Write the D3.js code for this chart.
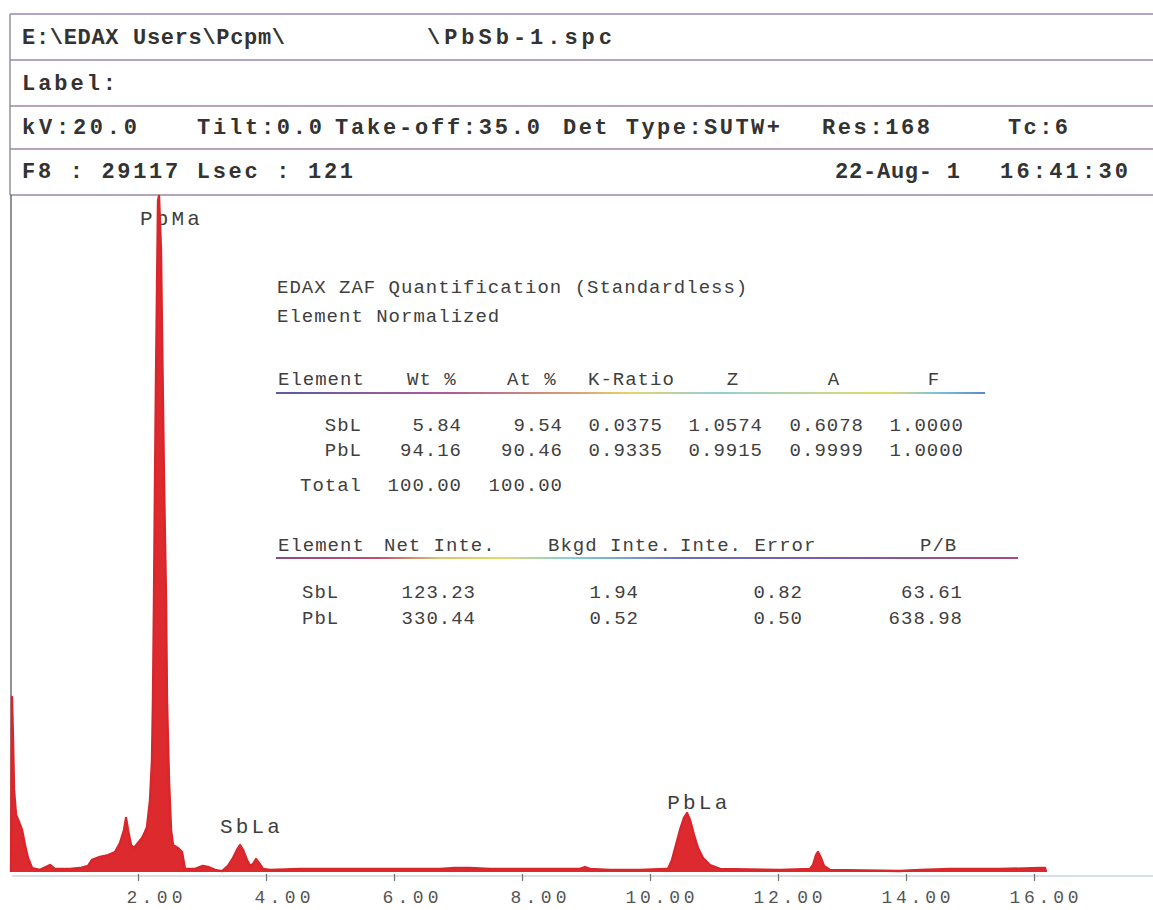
<!DOCTYPE html>
<html>
<head>
<meta charset="utf-8">
<script src="https://cdn.jsdelivr.net/npm/d3@7"></script>
<style>
  body { margin: 0; background: #fff; }
  svg { display: block; }
</style>
</head>
<body>
<svg id="chart" width="1153" height="910"></svg>
<script>
// spectrum: energy in keV, counts (full scale 29117)
var energy = [0.016, 0.031, 0.047, 0.063, 0.094, 0.141, 0.188, 0.234, 0.281, 0.344, 0.469, 0.625, 0.703, 0.938,
  1.094, 1.219, 1.281, 1.406, 1.531, 1.641, 1.719, 1.781, 1.813, 1.844, 1.891, 1.938, 2.0, 2.063, 2.109, 2.141,
  2.188, 2.219, 2.234, 2.25, 2.266, 2.281, 2.297, 2.313, 2.328, 2.359, 2.375, 2.406, 2.438, 2.453, 2.484, 2.516,
  2.547, 2.625, 2.688, 2.734, 2.891, 3.016, 3.094, 3.203, 3.313, 3.406, 3.484, 3.547, 3.594, 3.641, 3.703, 3.75,
  3.797, 3.844, 3.891, 3.953, 4.063, 4.531, 6.094, 6.719, 6.953, 7.188, 7.5, 8.906, 8.984, 9.063, 9.375, 9.844,
  10.234, 10.281, 10.344, 10.406, 10.469, 10.531, 10.578, 10.625, 10.688, 10.75, 10.828, 10.938, 11.094, 12.031,
  12.5, 12.547, 12.594, 12.625, 12.672, 12.719, 12.813, 13.906, 14.219, 14.688, 15.469, 16.094, 16.172, 16.19];
var counts = [0, 7540, 5690, 3530, 2455, 2150, 1810, 1160, 600, 170, 90, 300, 130, 130,
  170, 260, 520, 650, 730, 860, 1250, 1810, 2330, 1810, 1160, 1030, 1250, 1460, 1720, 1940,
  3100, 4820, 7410, 11700, 16900, 21200, 25100, 28900, 29117, 26800, 23300, 16900, 11700, 7410, 3960, 1810,
  1160, 1030, 860, 130, 130, 260, 220, 90, 40, 260, 600, 950, 1160, 950, 520, 260,
  340, 560, 390, 130, 90, 130, 130, 130, 170, 170, 130, 130, 215, 130, 90, 90,
  130, 130, 520, 1160, 1810, 2330, 2540, 2240, 1590, 1030, 600, 300, 130, 90,
  130, 300, 730, 860, 600, 260, 90, 40, 90, 130, 130, 170, 170, 0];
var fullScale = 29117;
var tickKeV = [2, 4, 6, 8, 10, 12, 14, 16];

var peakNames = ["PbMa", "SbLa", "PbLa"];
var peakLabelKeV = [2.03, 3.28, 10.27];
var peakLabelCounts = [27870, 1680, 2710];

var headerRow1 = ["E:\\EDAX Users\\Pcpm\\", "\\PbSb-1.spc"];
var headerRow2 = ["Label:"];
var headerRow3 = ["kV:20.0", "Tilt:0.0", "Take-off:35.0", "Det Type:SUTW+", "Res:168", "Tc:6"];
var headerRow4 = ["F8 : 29117 Lsec : 121", "22-Aug- 1", "16:41:30"];

var quantTitle = ["EDAX ZAF Quantification (Standardless)", "Element Normalized"];
var quantCols = ["Element", "Wt %", "At %", "K-Ratio", "Z", "A", "F"];
var quantRows = [
  ["SbL", "5.84", "9.54", "0.0375", "1.0574", "0.6078", "1.0000"],
  ["PbL", "94.16", "90.46", "0.9335", "0.9915", "0.9999", "1.0000"]
];
var quantTotal = ["Total", "100.00", "100.00"];
var intCols = ["Element", "Net Inte.", "Bkgd Inte.", "Inte. Error", "P/B"];
var intRows = [
  ["SbL", "123.23", "1.94", "0.82", "63.61"],
  ["PbL", "330.44", "0.52", "0.50", "638.98"]
];

var svg = d3.select("#chart");
var mono = "'Liberation Mono', 'DejaVu Sans Mono', monospace";
var frameColor = "#9d86ab";

// ---- header box ----
[14, 60, 106, 149, 195].forEach(function(y) {
  svg.append("line").attr("x1", 10).attr("x2", 1153).attr("y1", y).attr("y2", y)
    .attr("stroke", frameColor).attr("stroke-width", 1.6);
});
svg.append("line").attr("x1", 10).attr("x2", 10).attr("y1", 14).attr("y2", 195)
  .attr("stroke", "#8a8a94").attr("stroke-width", 1.4);

function headText(str, x, y, len) {
  var t = svg.append("text").attr("x", x).attr("y", y).text(str)
    .attr("font-family", mono).attr("font-weight", "bold").attr("font-size", 22)
    .attr("fill", "#333");
  if (len) t.attr("textLength", len).attr("lengthAdjust", "spacing");
  return t;
}
headText(headerRow1[0], 22, 44, 263);
headText(headerRow1[1], 427, 44, 185);
headText(headerRow2[0], 22, 90, 94);
var r3x = [22, 197, 335, 563, 822, 1008], r3w = [115, 125, 205, 217, 108, 60];
headerRow3.forEach(function(s, i) { headText(s, r3x[i], 134, r3w[i]); });
var r4x = [22, 835, 1000], r4w = [331, 125, 128];
headerRow4.forEach(function(s, i) { headText(s, r4x[i], 178, r4w[i]); });

// ---- spectrum ----
var x = d3.scaleLinear().domain([0, 16]).range([10, 1034]);
var y = d3.scaleLinear().domain([0, fullScale]).range([872, 196]);

svg.append("line").attr("x1", 11).attr("x2", 11).attr("y1", 195).attr("y2", 872)
  .attr("stroke", "#55555f").attr("stroke-width", 1.3);

// x axis
svg.append("line").attr("x1", 12).attr("x2", 1153).attr("y1", 876).attr("y2", 876)
  .attr("stroke", "#b8c4c8").attr("stroke-width", 1.2);
var ax = svg.append("g").attr("transform", "translate(0,874)")
  .call(d3.axisBottom(x).tickValues(tickKeV).tickSize(7).tickFormat(d3.format(".2f")));
ax.select(".domain").remove();
ax.selectAll(".tick line").attr("stroke", "#777").attr("stroke-width", 1.3);
ax.selectAll(".tick text")
  .attr("font-family", mono).attr("font-size", 18).attr("fill", "#555")
  .attr("text-anchor", "end").attr("x", 44).attr("y", 16)
  .attr("textLength", function(d) { return d >= 10 ? 69 : 56; })
  .attr("lengthAdjust", "spacing");

// peak labels
peakNames.forEach(function(name, i) {
  svg.append("text").attr("x", x(peakLabelKeV[i])).attr("y", y(peakLabelCounts[i]))
    .text(name).attr("font-family", mono).attr("font-size", 21).attr("fill", "#3e3e3e")
    .attr("textLength", 60).attr("lengthAdjust", "spacing");
});

var pts = energy.map(function(e, i) { return [e, counts[i]]; });
var area = d3.area().x(function(d) { return x(d[0]); }).y0(y(0)).y1(function(d) { return y(d[1]); });
var line = d3.line().x(function(d) { return x(d[0]); }).y(function(d) { return y(d[1]); });
svg.append("path").datum(pts).attr("d", area).attr("fill", "#dd2a2e");
svg.append("path").datum(pts).attr("d", line).attr("fill", "none")
  .attr("stroke", "#d8262b").attr("stroke-width", 2.4).attr("stroke-linejoin", "round");

// ---- quantification table ----
var defs = svg.append("defs");
function rainbow(id, x1, x2, stops) {
  var g = defs.append("linearGradient").attr("id", id).attr("gradientUnits", "userSpaceOnUse")
    .attr("x1", x1).attr("x2", x2).attr("y1", 0).attr("y2", 0);
  stops.forEach(function(s) { g.append("stop").attr("offset", s[0]).attr("stop-color", s[1]); });
}
rainbow("ul1", 276, 985, [[0, "#5a5aa8"], [0.25, "#b25c98"], [0.42, "#d9a070"], [0.5, "#e8d36a"],
  [0.62, "#8fcfd8"], [0.78, "#c8d88a"], [0.86, "#e6d86a"], [0.93, "#7ec3d8"], [1, "#5a8ac8"]]);
rainbow("ul2", 276, 1018, [[0, "#8a4a8a"], [0.14, "#c0506a"], [0.22, "#e0c070"], [0.3, "#e8d86a"],
  [0.4, "#80cfd8"], [0.55, "#6a70b8"], [0.75, "#7a5aa8"], [1, "#a84a7a"]]);

function tText(str, x, y, anchor) {
  return svg.append("text").attr("x", x).attr("y", y).text(str)
    .attr("font-family", mono).attr("font-size", 19).attr("letter-spacing", 1)
    .attr("fill", "#404040").attr("text-anchor", anchor || "start");
}
tText(quantTitle[0], 277, 293);
tText(quantTitle[1], 277, 322);

var qHeadX = [278, 407, 507, 588, 733, 834, 934];
var qHeadA = ["start", "start", "start", "start", "middle", "middle", "middle"];
quantCols.forEach(function(c, i) { tText(c, qHeadX[i], 385, qHeadA[i]); });
svg.append("line").attr("x1", 276).attr("x2", 985).attr("y1", 393).attr("y2", 393)
  .attr("stroke", "url(#ul1)").attr("stroke-width", 2.2);

var qValX = [362, 462, 563, 663, 763, 864, 964];
quantRows.forEach(function(r, j) {
  r.forEach(function(v, i) { tText(v, qValX[i], 431 + j * 25, "end"); });
});
quantTotal.forEach(function(v, i) { tText(v, qValX[i], 491, "end"); });

var iHeadX = [278, 384, 548, 680, 920];
intCols.forEach(function(c, i) { tText(c, iHeadX[i], 551); });
svg.append("line").attr("x1", 276).attr("x2", 1018).attr("y1", 558).attr("y2", 558)
  .attr("stroke", "url(#ul2)").attr("stroke-width", 2.2);

var iValX = [302, 476, 639, 803, 963];
var iValA = ["start", "end", "end", "end", "end"];
intRows.forEach(function(r, j) {
  r.forEach(function(v, i) { tText(v, iValX[i], 598 + j * 26, iValA[i]); });
});
</script>
</body>
</html>
